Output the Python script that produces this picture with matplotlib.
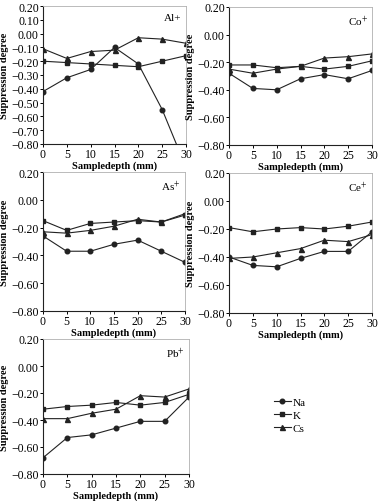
import matplotlib
matplotlib.use("Agg")
import matplotlib.pyplot as plt
import numpy as np

plt.rcParams['font.family'] = ['Liberation Serif', 'DejaVu Serif']
plt.rcParams['mathtext.fontset'] = 'stix'

depth = [0, 5, 10, 15, 20, 25, 30]
series_names = ["Na", "K", "Cs"]

al_na = [-0.42, -0.32, -0.26, -0.10, -0.22, -0.55, -0.97]
al_k = [-0.20, -0.21, -0.22, -0.23, -0.24, -0.20, -0.16]
al_cs = [-0.11, -0.18, -0.13, -0.12, -0.03, -0.04, -0.07]

co_na = [-0.28, -0.39, -0.40, -0.32, -0.29, -0.32, -0.26]
co_k = [-0.22, -0.22, -0.24, -0.23, -0.25, -0.23, -0.19]
co_cs = [-0.25, -0.28, -0.25, -0.23, -0.17, -0.16, -0.14]

as_na = [-0.26, -0.37, -0.37, -0.32, -0.29, -0.37, -0.45]
as_k = [-0.15, -0.22, -0.17, -0.16, -0.15, -0.16, -0.11]
as_cs = [-0.23, -0.24, -0.22, -0.19, -0.14, -0.16, -0.10]

ce_na = [-0.40, -0.46, -0.47, -0.41, -0.36, -0.36, -0.22]
ce_k = [-0.19, -0.22, -0.20, -0.19, -0.20, -0.18, -0.15]
ce_cs = [-0.41, -0.40, -0.37, -0.34, -0.28, -0.29, -0.24]

pb_na = [-0.68, -0.53, -0.51, -0.46, -0.41, -0.41, -0.23]
pb_k = [-0.32, -0.30, -0.29, -0.27, -0.29, -0.27, -0.21]
pb_cs = [-0.39, -0.39, -0.35, -0.32, -0.22, -0.23, -0.17]

panel_titles = ["Al+", "Co$^{+}$", "As$^{+}$", "Ce$^{+}$", "Pb$^{+}$"]
panel_data = [
    (al_na, al_k, al_cs),
    (co_na, co_k, co_cs),
    (as_na, as_k, as_cs),
    (ce_na, ce_k, ce_cs),
    (pb_na, pb_k, pb_cs),
]

W, H = 378, 502
fig = plt.figure(figsize=(W / 100, H / 100), dpi=100)

def rect(l, r, t, b):
    return [l / W, (H - b) / H, (r - l) / W, (b - t) / H]

rects = [
    rect(43, 186, 7, 145),
    rect(229, 372, 8, 146),
    rect(43, 185, 173, 312),
    rect(229, 372, 174, 314),
    rect(43, 189, 340, 475),
]

markers = ['o', 's', '^']
msizes = [3.3, 3.5, 3.6]
fs = 7
lines_for_legend = []
for i, (r, title, data) in enumerate(zip(rects, panel_titles, panel_data)):
    ax = fig.add_axes(r)
    for j, vals in enumerate(data):
        ln, = ax.plot(depth, vals, marker=markers[j], ms=msizes[j], color='#222222',
                      lw=0.8, label=series_names[j])
        if i == 0:
            lines_for_legend.append(ln)
    ax.set_xlim(0, 30)
    ax.set_ylim(-0.8, 0.2)
    ax.set_xticks(depth)
    if i == 0:
        yt = np.round(np.arange(-0.8, 0.201, 0.1), 2)
    else:
        yt = np.round(np.arange(-0.8, 0.201, 0.2), 2)
    ax.set_yticks(yt)
    ax.set_yticklabels([f"{v:.2f}".replace("-", "\u2212") if abs(v) > 1e-9 else "0.00" for v in yt])
    ax.tick_params(labelsize=fs + 1.5, length=2, width=0.7, pad=1, direction='out')
    for s in ['top', 'right']:
        ax.spines[s].set_color('#b0b0b0')
        ax.spines[s].set_linewidth(0.6)
    for s in ['left', 'bottom']:
        ax.spines[s].set_color('#222222')
        ax.spines[s].set_linewidth(0.8)
    ax.set_xlabel("Sampledepth (mm)", fontsize=fs + 0.5, fontweight='bold', labelpad=0)
    ax.set_ylabel("Suppression degree", fontsize=fs + 0.5, fontweight='bold', labelpad=2)
    ax.text(0.97, 0.95, title, transform=ax.transAxes, ha='right', va='top', fontsize=fs + 1)

fig.legend(lines_for_legend, series_names, loc='upper left',
           bbox_to_anchor=(274 / W, 1 - 398 / H), frameon=False,
           fontsize=fs + 1, handlelength=1.5, handletextpad=0.2, labelspacing=0.3,
           borderpad=0, borderaxespad=0)

fig.savefig("out.png", dpi=100)
